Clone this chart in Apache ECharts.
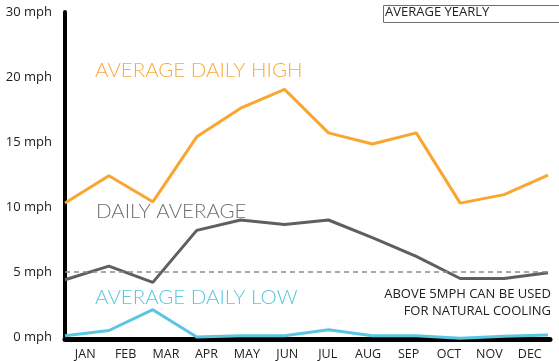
<!DOCTYPE html>
<html>
<head>
<meta charset="utf-8">
<title>Wind speed by month</title>
<script src="https://cdn.jsdelivr.net/npm/echarts@6/dist/echarts.min.js"></script>
<style>
  html, body { margin: 0; padding: 0; background: #fff; }
  #chart { width: 559px; height: 361px; }
</style>
</head>
<body>
<div id="chart"></div>
<script>
// Monthly wind speeds (mph)
const months = ['JAN', 'FEB', 'MAR', 'APR', 'MAY', 'JUN', 'JUL', 'AUG', 'SEP', 'OCT', 'NOV', 'DEC'];
const dailyHigh = [10.3, 12.4, 10.4, 15.4, 17.6, 19.05, 15.7, 14.85, 15.7, 10.3, 10.95, 12.45];
const dailyAverage = [4.4, 5.45, 4.2, 8.2, 9.0, 8.65, 9.0, 7.65, 6.2, 4.5, 4.5, 4.95];
const dailyLow = [0.1, 0.5, 2.1, 0.0, 0.1, 0.1, 0.55, 0.1, 0.1, -0.1, 0.05, 0.15];
const yTickValues = [0, 5, 10, 15, 20, 25];
const yTickLabels = ['0 mph', '5 mph', '10 mph', '15 mph', '20 mph', '30 mph'];
const coolingThreshold = 5;

const chart = echarts.init(document.getElementById('chart'));

const tickFont = { fontFamily: 'Open Sans', fontSize: 12, color: '#222' };

chart.setOption({
  animation: false,
  backgroundColor: '#fff',
  grid: [
    { left: 65, right: 11, top: 12, bottom: 24 },
    { left: 65, right: 9, top: 12, bottom: 22 }
  ],
  xAxis: [
    {
      gridIndex: 0, type: 'category', data: months, boundaryGap: false,
      axisLine: { show: false }, axisTick: { show: false }, axisLabel: { show: false },
      splitLine: { show: false }
    },
    {
      gridIndex: 1, type: 'category', data: months, boundaryGap: true,
      axisLine: { show: true, lineStyle: { color: '#000', width: 5 } },
      axisTick: { show: false },
      axisLabel: Object.assign({ margin: 9 }, tickFont, { fontSize: 12.5 }),
      splitLine: { show: false }
    }
  ],
  yAxis: [
    {
      gridIndex: 0, type: 'value', min: yTickValues[0], max: yTickValues[yTickValues.length - 1], interval: 5,
      axisLine: { show: true, lineStyle: { color: '#000', width: 4 } },
      axisTick: { show: false },
      splitLine: { show: false },
      axisLabel: Object.assign({
        margin: 13,
        formatter: function (v) {
          const i = yTickValues.indexOf(v);
          return i >= 0 ? yTickLabels[i] : '';
        }
      }, tickFont, { fontSize: 13 })
    },
    {
      gridIndex: 1, type: 'value', min: 0, max: 25, show: false
    }
  ],
  series: [
    {
      name: 'AVERAGE DAILY HIGH', type: 'line', xAxisIndex: 0, yAxisIndex: 0,
      data: dailyHigh, showSymbol: false, clip: false,
      lineStyle: { color: '#f9a631', width: 3 }, z: 3
    },
    {
      name: 'DAILY AVERAGE', type: 'line', xAxisIndex: 0, yAxisIndex: 0,
      data: dailyAverage, showSymbol: false, clip: false,
      lineStyle: { color: '#5f5f61', width: 3 }, z: 3,
      markLine: {
        silent: true, symbol: 'none', label: { show: false },
        lineStyle: { color: '#8c8c8c', type: [5, 4], width: 1.5 },
        data: [{ yAxis: coolingThreshold }]
      }
    },
    {
      name: 'AVERAGE DAILY LOW', type: 'line', xAxisIndex: 0, yAxisIndex: 0,
      data: dailyLow, showSymbol: false, clip: false,
      lineStyle: { color: '#5ac6e0', width: 3 }, z: 4
    }
  ],
  graphic: [
    {
      type: 'text', left: 95, top: 60,
      style: { text: 'AVERAGE DAILY HIGH', fill: '#f9a83a', font: '300 20.5px Lato' }
    },
    {
      type: 'text', left: 96, top: 201,
      style: { text: 'DAILY AVERAGE', fill: '#6b7077', font: '300 20.5px Lato' }
    },
    {
      type: 'text', left: 95, top: 287,
      style: { text: 'AVERAGE DAILY LOW', fill: '#5ac6e0', font: '300 20.5px Lato' }
    },
    {
      type: 'text', right: 8, top: 288,
      style: { text: 'ABOVE 5MPH CAN BE USED', fill: '#222', font: '13px "Open Sans"' }
    },
    {
      type: 'text', right: 8, top: 305,
      style: { text: 'FOR NATURAL COOLING', fill: '#222', font: '13px "Open Sans"' }
    },
    {
      type: 'rect', shape: { x: 383.5, y: 5.5, width: 180, height: 17 },
      style: { fill: '#fff', stroke: '#6e6e6e', lineWidth: 1 }
    },
    {
      type: 'text', left: 385, top: 6,
      style: { text: 'AVERAGE YEARLY', fill: '#222', font: '13px "Open Sans"' }
    }
  ]
});
</script>
</body>
</html>
